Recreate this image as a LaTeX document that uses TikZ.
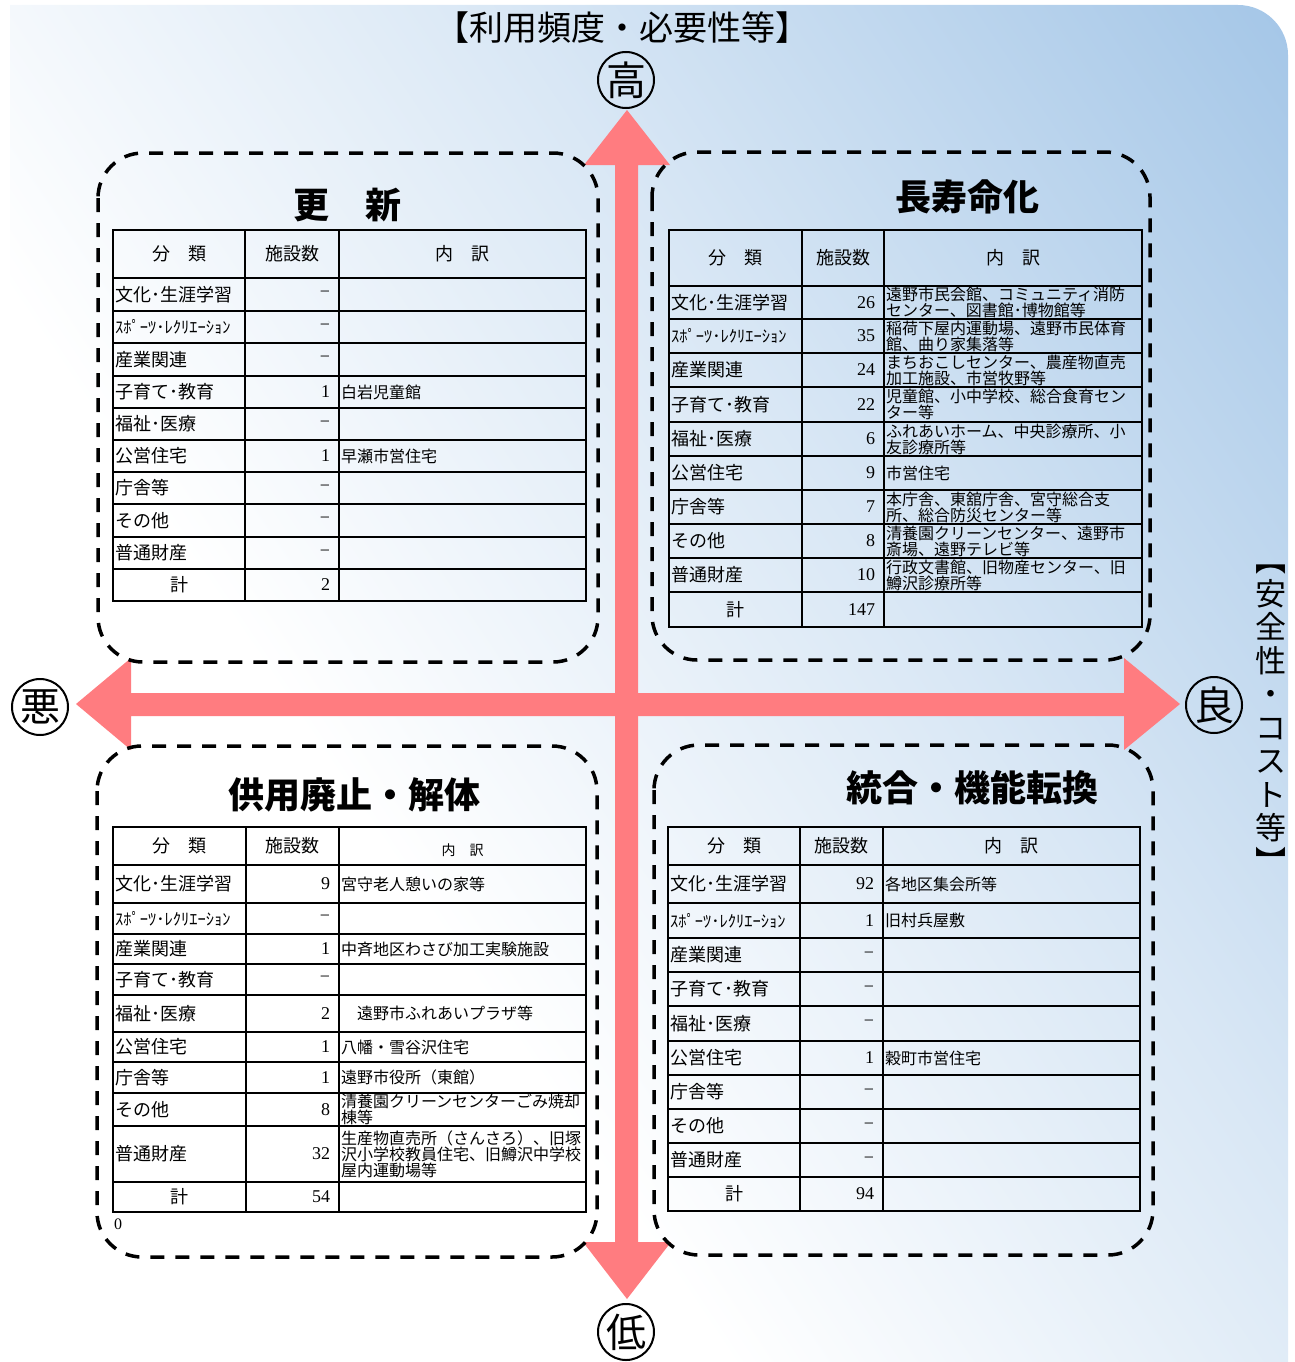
\documentclass[tikz,border=0pt]{standalone}
\usepackage{fontspec}
\setmainfont{Liberation Serif}
\newfontfamily\jp{Noto Sans CJK JP}
\definecolor{pinkc}{RGB}{255,124,128}
\definecolor{bgblue}{RGB}{164,198,231}
\colorlet{bgmid}{bgblue!42!white}
\pgfdeclareverticalshading{bgsh}{100bp}{color(0bp)=(white); color(38bp)=(white); color(60bp)=(bgmid); color(85bp)=(bgblue); color(100bp)=(bgblue)}
\tikzset{
 every node/.style={inner sep=0pt, outer sep=0pt},
 catf/.style={anchor=west, font=\jp\fontsize{18}{18}\selectfont},
 numf/.style={anchor=east, font=\fontsize{18}{18}\selectfont},
 detf/.style={anchor=west, align=left, font=\jp\fontsize{16}{16}\selectfont},
 headf/.style={font=\jp\fontsize{18}{18}\selectfont},
 ttl/.style={font=\jp\bfseries\fontsize{36}{36}\selectfont},
 axlab/.style={circle, draw, line width=2pt, minimum size=56pt, font=\jp\fontsize{40}{40}\selectfont},
 dbox/.style={draw, line width=3.5pt, dash pattern=on 14pt off 11pt, rounded corners=45pt},
 tline/.style={line width=2pt},
}
\newcommand\qrow[6]{%
  \node[catf] (#1c) at (\xa+2,{(#2+#3)/2}) {#4};
  \node[numf] (#1n) at (\xc-9,{(#2+#3)/2}) {#5};
  \node[detf] (#1d) at (\xc+2,{(#2+#3)/2}) {#6};
}
\newcommand\qsum[4]{%
  \node[headf] (#1c) at ({(\xa+\xb)/2},{(#2+#3)/2}) {計};
  \node[numf] (#1n) at (\xc-9,{(#2+#3)/2}) {#4};
}
\newcommand\qhead[4]{%
  \node[headf] (#1a) at ({(\xa+\xb)/2},{(#2+#3)/2}) {分　類};
  \node[headf] (#1b) at ({(\xb+\xc)/2},{(#2+#3)/2}) {施設数};
  \node[headf,#4] (#1e) at ({(\xc+\xd)/2},{(#2+#3)/2}) {内　訳};
}
\newcommand\qgrid[3]{%
  \draw[tline] (\xa,#1) rectangle (\xd,#2);
  \draw[tline] (\xb,#1) -- (\xb,#2) (\xc,#1) -- (\xc,#2);
  \foreach \yy in {#3} {\draw[tline] (\xa,\yy) -- (\xd,\yy);}
}
\newcommand\spo{{\fontsize{16.5}{16.5}\selectfont ｽﾎﾟｰﾂ･ﾚｸﾘｴｰｼｮﾝ}}
\newcommand\mm{\raisebox{-1pt}{−}}
\begin{document}
\begin{tikzpicture}[x=1pt,y=-1pt]
\useasboundingbox (0,0) rectangle (1294,1362);
% background
\shade[shading=bgsh, shading angle=-56] (10,1362) -- (10,5) -- (1238,5) .. controls (1265.6,5) and (1288,27.4) .. (1288,55) -- (1288,1362) -- cycle;
% arrows
\fill[pinkc] (627,110) -- (670,165) -- (638,165) -- (638,1242) -- (671,1242) -- (627,1299) -- (583,1242) -- (615,1242) -- (615,165) -- (584,165) -- cycle;
\fill[pinkc] (76,704) -- (131,658) -- (131,693) -- (1124,693) -- (1124,658) -- (1180,704) -- (1124,750) -- (1124,716) -- (131,716) -- (131,750) -- cycle;
% axis labels
\node[font=\jp\fontsize{34}{34}\selectfont] (ttop) at (622,28) {【利用頻度・必要性等】};
\node[font=\jp\fontsize{31}{33.5}\selectfont, align=center] (tright) at (1271,719) {︻\\安\\全\\性\\・\\コ\\ス\\ト\\等\\︼};
\node[axlab] (high) at (626,80) {高};
\node[axlab] (low) at (626,1332) {低};
\node[axlab] (bad) at (40,707) {悪};
\node[axlab] (good) at (1214,705) {良};
% dashed boxes
\draw[dbox] (98,153) rectangle (598,662);
\draw[dbox] (652,152) rectangle (1150,660);
\draw[dbox] (97,746) rectangle (597,1257);
\draw[dbox] (654,745) rectangle (1153,1255);
% titles
\node[ttl] (t1) at (347,205) {更　新};
\node[ttl] (t2) at (967,197) {長寿命化};
\node[ttl] (t3) at (354,795) {供用廃止・解体};
\node[ttl] (t4) at (972,788) {統合・機能転換};
% ---- table TL
\def\xa{113}\def\xb{245}\def\xc{339}\def\xd{586}
\qgrid{230}{601}{278,311,343,376,408,440,472,504,537,569}
\qhead{tlh}{230}{278}{}
\qrow{tl1}{278}{311}{文化･生涯学習}{\mm}{}
\qrow{tl2}{311}{343}{\spo}{\mm}{}
\qrow{tl3}{343}{376}{産業関連}{\mm}{}
\qrow{tl4}{376}{408}{子育て･教育}{1}{白岩児童館}
\qrow{tl5}{408}{440}{福祉･医療}{\mm}{}
\qrow{tl6}{440}{472}{公営住宅}{1}{早瀬市営住宅}
\qrow{tl7}{472}{504}{庁舎等}{\mm}{}
\qrow{tl8}{504}{537}{その他}{\mm}{}
\qrow{tl9}{537}{569}{普通財産}{\mm}{}
\qsum{tls}{569}{601}{2}
% ---- table TR
\def\xa{669}\def\xb{802}\def\xc{884}\def\xd{1142}
\qgrid{230}{627}{286,319,353,387,422,456,490,524,558,592}
\qhead{trh}{230}{286}{}
\qrow{tr1}{286}{319}{文化･生涯学習}{26}{遠野市民会館、コミュニティ消防\\センター、図書館･博物館等}
\qrow{tr2}{319}{353}{\spo}{35}{稲荷下屋内運動場、遠野市民体育\\館、曲り家集落等}
\qrow{tr3}{353}{387}{産業関連}{24}{まちおこしセンター、農産物直売\\加工施設、市営牧野等}
\qrow{tr4}{387}{422}{子育て･教育}{22}{児童館、小中学校、総合食育セン\\ター等}
\qrow{tr5}{422}{456}{福祉･医療}{6}{ふれあいホーム、中央診療所、小\\友診療所等}
\qrow{tr6}{456}{490}{公営住宅}{9}{市営住宅}
\qrow{tr7}{490}{524}{庁舎等}{7}{本庁舎、東舘庁舎、宮守総合支\\所、総合防災センター等}
\qrow{tr8}{524}{558}{その他}{8}{清養園クリーンセンター、遠野市\\斎場、遠野テレビ等}
\qrow{tr9}{558}{592}{普通財産}{10}{行政文書館、旧物産センター、旧\\鱒沢診療所等}
\qsum{trs}{592}{627}{147}
% ---- table BL
\def\xa{113}\def\xb{246}\def\xc{339}\def\xd{586}
\qgrid{827}{1212}{865,903,934,964,995,1032,1062,1093,1126,1182}
\qhead{blh}{827}{865}{font=\jp\fontsize{14}{14}\selectfont, yshift=-4pt}
\qrow{bl1}{865}{903}{文化･生涯学習}{9}{宮守老人憩いの家等}
\qrow{bl2}{903}{934}{\spo}{\mm}{}
\qrow{bl3}{934}{964}{産業関連}{1}{中斉地区わさび加工実験施設}
\qrow{bl4}{964}{995}{子育て･教育}{\mm}{}
\qrow{bl5}{995}{1032}{福祉･医療}{2}{　遠野市ふれあいプラザ等}
\qrow{bl6}{1032}{1062}{公営住宅}{1}{八幡・雪谷沢住宅}
\qrow{bl7}{1062}{1093}{庁舎等}{1}{遠野市役所（東館）}
\qrow{bl8}{1093}{1126}{その他}{8}{清養園クリーンセンターごみ焼却\\棟等}
\qrow{bl9}{1126}{1182}{普通財産}{32}{生産物直売所（さんさろ）、旧塚\\沢小学校教員住宅、旧鱒沢中学校\\屋内運動場等}
\qsum{bls}{1182}{1212}{54}
\node[font=\fontsize{16}{16}\selectfont] (zero) at (118,1224) {0};
% ---- table BR
\def\xa{668}\def\xb{800}\def\xc{883}\def\xd{1140}
\qgrid{827}{1211}{865,903,938,972,1006,1041,1075,1109,1143,1177}
\qhead{brh}{827}{865}{}
\qrow{br1}{865}{903}{文化･生涯学習}{92}{各地区集会所等}
\qrow{br2}{903}{938}{\spo}{1}{旧村兵屋敷}
\qrow{br3}{938}{972}{産業関連}{\mm}{}
\qrow{br4}{972}{1006}{子育て･教育}{\mm}{}
\qrow{br5}{1006}{1041}{福祉･医療}{\mm}{}
\qrow{br6}{1041}{1075}{公営住宅}{1}{穀町市営住宅}
\qrow{br7}{1075}{1109}{庁舎等}{\mm}{}
\qrow{br8}{1109}{1143}{その他}{\mm}{}
\qrow{br9}{1143}{1177}{普通財産}{\mm}{}
\qsum{brs}{1177}{1211}{94}
\end{tikzpicture}
\end{document}
